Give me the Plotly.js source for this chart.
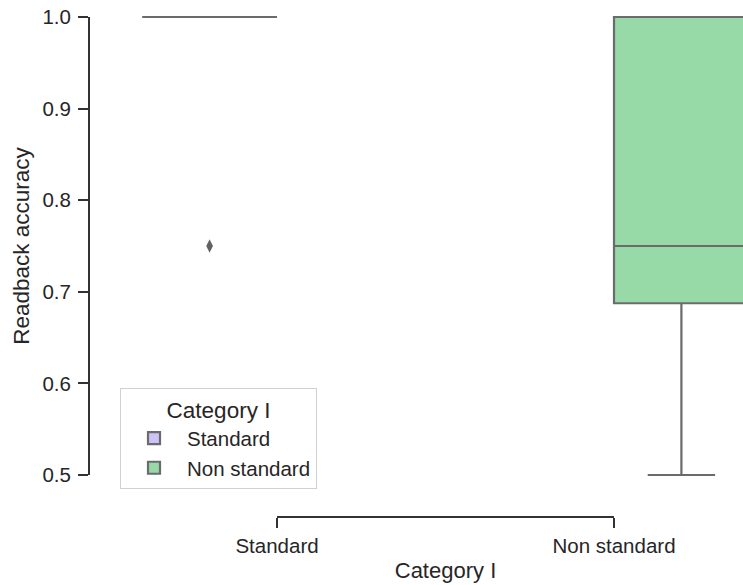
<!DOCTYPE html>
<html>
<head>
<meta charset="utf-8">
<script src="https://cdn.plot.ly/plotly-3.0.1.min.js"></script>
<style>html,body{margin:0;padding:0;background:#fff}#chart{width:743px;height:585px}</style>
</head>
<body>
<div id="chart"></div>
<script>
// Data
const categories = ["Standard", "Non standard"];      // x categories (Category I)
const hueNames = ["Standard", "Non standard"];        // legend groups
// Box statistics per hue group
const standardBox = { x: "Standard", q1: 1.0, median: 1.0, q3: 1.0, lo: 1.0, hi: 1.0 };
const nonStandardBox = { x: "Non standard", q1: 0.6875, median: 0.75, q3: 1.0, lo: 0.5, hi: 1.0 };
const standardOutliers = [0.75];
const nonStandardOutliers = [];
const yTicks = [0.5, 0.6, 0.7, 0.8, 0.9, 1.0];
const yTickText = ["0.5", "0.6", "0.7", "0.8", "0.9", "1.0"];

const fills = ["#cfc2f6", "#98d9a8"];
const lineGray = "#6b6b6b";
const textColor = "#262626";
const font = "Liberation Sans, Arial, sans-serif";

function boxTrace(b, pts, name, fill, group) {
  const t = {
    type: "box",
    name: name,
    x: [b.x],
    q1: [b.q1], median: [b.median], q3: [b.q3],
    lowerfence: [b.lo], upperfence: [b.hi],
    fillcolor: fill,
    line: { color: lineGray, width: 2.2 },
    marker: { symbol: "diamond-tall", size: 9.5, color: "#626262", line: { width: 0 } },
    whiskerwidth: 0.5,
    boxpoints: pts.length ? "outliers" : false,
    jitter: 0,
    pointpos: 0,
    alignmentgroup: "main",
    offsetgroup: group,
    xaxis: "x", yaxis: "y",
    hoverinfo: "skip"
  };
  if (pts.length) t.y = [pts];
  return t;
}

const traces = [
  boxTrace(standardBox, standardOutliers, hueNames[0], fills[0], "g1"),
  boxTrace(nonStandardBox, nonStandardOutliers, hueNames[1], fills[1], "g2")
];

// Dummy trace to create the trimmed spine axes
traces.push({
  type: "scatter", mode: "markers", x: [], y: [],
  xaxis: "x2", yaxis: "y2", showlegend: false, hoverinfo: "skip"
});

const W = 743, H = 585, ML = 89, MB = 68;
const plotW = W - ML, plotH = H - MB;
const xStartPx = 108.5, pxPerCat = 337;
const catLeftPx = 277, catRightPx = 614;
const yTopPx = 17, yBotPx = 475;   // pixel positions of 1.0 and 0.5
const pxPerUnit = (yBotPx - yTopPx) / 0.5;

const layout = {
  width: W, height: H,
  margin: { l: ML, r: 0, t: 0, b: MB, pad: 0 },
  paper_bgcolor: "#ffffff",
  plot_bgcolor: "rgba(0,0,0,0)",
  font: { family: font, size: 20.5, color: textColor },
  boxmode: "group",
  boxgap: 0.2,
  boxgroupgap: 0,
  showlegend: true,
  xaxis: {
    type: "category",
    categoryorder: "array",
    categoryarray: categories,
    domain: [(xStartPx - ML) / plotW, 1],
    range: [-0.5, -0.5 + (W - xStartPx) / pxPerCat],
    visible: false,
    fixedrange: true
  },
  yaxis: {
    range: [0.5 - (plotH - yBotPx) / pxPerUnit, 1.0 + yTopPx / pxPerUnit],
    visible: false,
    fixedrange: true
  },
  xaxis2: {
    anchor: "free", position: 0,
    domain: [(catLeftPx - ML) / plotW, (catRightPx - ML) / plotW],
    range: [0, 1],
    tickmode: "array",
    tickvals: [0, 1],
    ticktext: categories,
    showline: true, linecolor: "#333333", linewidth: 2,
    ticks: "outside", ticklen: 10, tickwidth: 2, tickcolor: "#333333",
    showgrid: false, zeroline: false,
    tickfont: { size: 20.5, color: textColor },
    title: { text: "Category I", font: { size: 22, color: textColor }, standoff: 6 },
    fixedrange: true
  },
  yaxis2: {
    anchor: "free", position: 0,
    domain: [(plotH - yBotPx) / plotH, (plotH - yTopPx) / plotH],
    range: [0.5, 1.0],
    tickmode: "array",
    tickvals: yTicks,
    ticktext: yTickText,
    showline: true, linecolor: "#333333", linewidth: 2,
    ticks: "outside", ticklen: 10, tickwidth: 2, tickcolor: "#333333",
    ticklabelstandoff: 3,
    showgrid: false, zeroline: false,
    tickfont: { size: 20.5, color: textColor },
    title: { text: "Readback accuracy", font: { size: 22.5, color: textColor }, standoff: 6 },
    fixedrange: true
  },
  legend: {
    x: (120 - ML) / plotW, xanchor: "left",
    y: (plotH - 388) / plotH, yanchor: "top",
    bgcolor: "rgba(255,255,255,0.85)",
    bordercolor: "#d0d0d0", borderwidth: 1,
    font: { size: 20.5, color: textColor },
    title: { text: "Category I", side: "top center", font: { size: 22.5, color: textColor } },
    itemwidth: 56,
    tracegroupgap: 0
  }
};

Plotly.newPlot("chart", traces, layout, { staticPlot: true, displayModeBar: false });
</script>
</body>
</html>
